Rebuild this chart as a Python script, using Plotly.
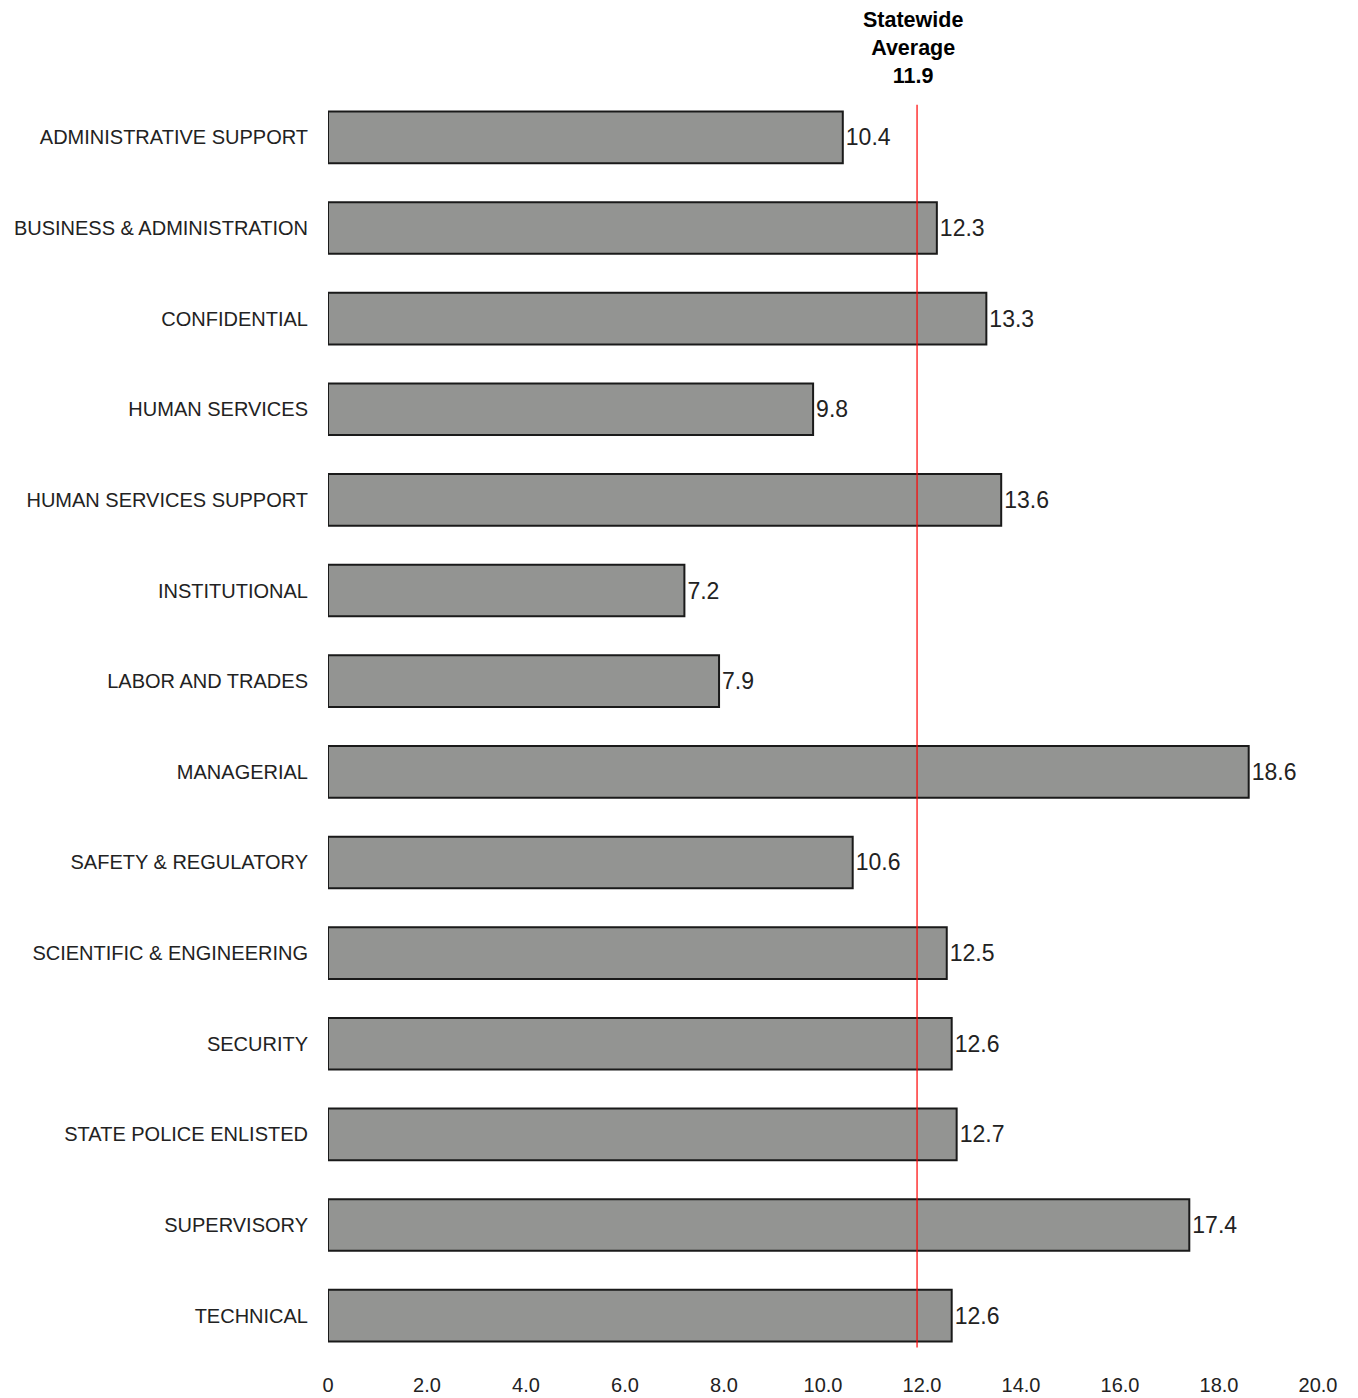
import plotly.graph_objects as go

categories = [
    "ADMINISTRATIVE SUPPORT", "BUSINESS & ADMINISTRATION", "CONFIDENTIAL",
    "HUMAN SERVICES", "HUMAN SERVICES SUPPORT", "INSTITUTIONAL",
    "LABOR AND TRADES", "MANAGERIAL", "SAFETY & REGULATORY",
    "SCIENTIFIC & ENGINEERING", "SECURITY", "STATE POLICE ENLISTED",
    "SUPERVISORY", "TECHNICAL",
]
values = [10.4, 12.3, 13.3, 9.8, 13.6, 7.2, 7.9, 18.6, 10.6, 12.5, 12.6, 12.7, 17.4, 12.6]
statewide_average = 11.9
x_ticks = [0, 2, 4, 6, 8, 10, 12, 14, 16, 18, 20]
x_tick_labels = ["0", "2.0", "4.0", "6.0", "8.0", "10.0", "12.0", "14.0", "16.0", "18.0", "20.0"]

FONT = "Liberation Sans, Arial, sans-serif"

fig = go.Figure()
fig.add_trace(go.Bar(
    y=categories, x=values, orientation="h",
    width=0.57,
    marker=dict(color="#939492", line=dict(color="#1a1a1a", width=2)),
    text=[f"{v:.1f}" for v in values],
    textposition="outside",
    textfont=dict(family=FONT, size=23, color="#222222"),
    cliponaxis=False,
))

fig.add_shape(type="line", xref="x", yref="paper",
              x0=statewide_average, x1=statewide_average, y0=0.0106, y1=0.990,
              line=dict(color="#ff0000", width=1.2))

fig.add_annotation(x=statewide_average, xref="x", y=1.0, yref="paper",
                   xshift=-4, yshift=85, yanchor="top", showarrow=False,
                   text="<b>Statewide<br>Average<br>11.9</b>",
                   font=dict(family=FONT, size=21.5, color="#000000"),
                   align="center", borderpad=0)

fig.update_layout(
    width=1350, height=1390,
    margin=dict(l=320, r=40, t=84, b=37, autoexpand=False),
    paper_bgcolor="white", plot_bgcolor="white",
    showlegend=False,
    font=dict(family=FONT, color="#222222"),
    xaxis=dict(range=[0, 20], tickvals=x_ticks, ticktext=x_tick_labels,
               showgrid=False, zeroline=False, showline=False, automargin=False,
               tickfont=dict(family=FONT, size=20, color="#222222"),
               ticks="", ticklabelstandoff=10),
    yaxis=dict(categoryorder="array", categoryarray=categories,
               autorange=False, range=[13.5, -0.5], automargin=False,
               showgrid=False, zeroline=False, showline=False,
               tickfont=dict(family=FONT, size=20, color="#222222"),
               ticks="", ticklabelstandoff=19),
    bargap=0.43,
)

fig.write_html("out.html")
